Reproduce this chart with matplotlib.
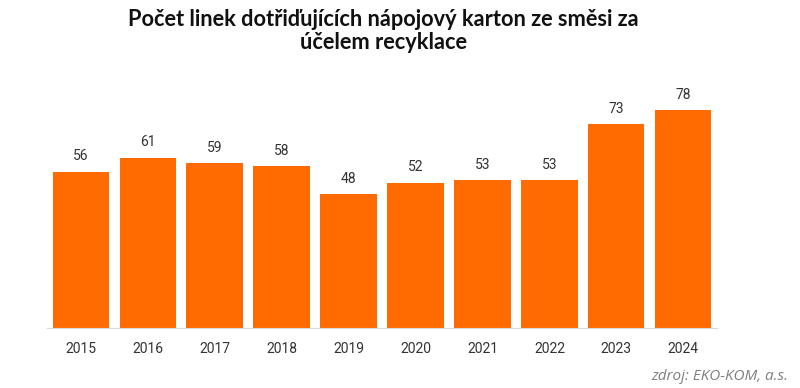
import matplotlib.pyplot as plt

years = ["2015", "2016", "2017", "2018", "2019", "2020", "2021", "2022", "2023", "2024"]
lines = [56, 61, 59, 58, 48, 52, 53, 53, 73, 78]

fig = plt.figure(figsize=(8, 3.88), dpi=100)
ax = fig.add_axes([0.059, 0.155, 0.837, 0.647])

x = range(len(years))
bars = ax.bar(x, lines, width=0.84, color="#FF6B00")
for i, v in enumerate(lines):
    ax.text(i, v + 3, str(v), ha="center", va="bottom", fontsize=10,
            color="#333333", family="Roboto")

ax.set_xlim(-0.5, len(years) - 0.5)
ax.set_ylim(0, 90)
ax.set_xticks(list(x))
ax.set_xticklabels(years, fontsize=10, color="#333333", family="Roboto")
ax.tick_params(axis="x", length=0, pad=10)
ax.set_yticks([])
for s in ["top", "right", "left"]:
    ax.spines[s].set_visible(False)
ax.spines["bottom"].set_color("#d9d9d9")

fig.text(0.479, 0.978, "Počet linek dotřiďujících nápojový karton ze směsi za\núčelem recyklace",
         ha="center", va="top", fontsize=15.7, fontweight="bold", family="Lato",
         linespacing=1.15, color="#111111")
fig.text(0.985, 0.01, "zdroj: EKO-KOM, a.s.", ha="right", va="bottom",
         fontsize=11, style="italic", color="#7f7f7f", family="Open Sans")

fig.savefig("out.png", dpi=100)
